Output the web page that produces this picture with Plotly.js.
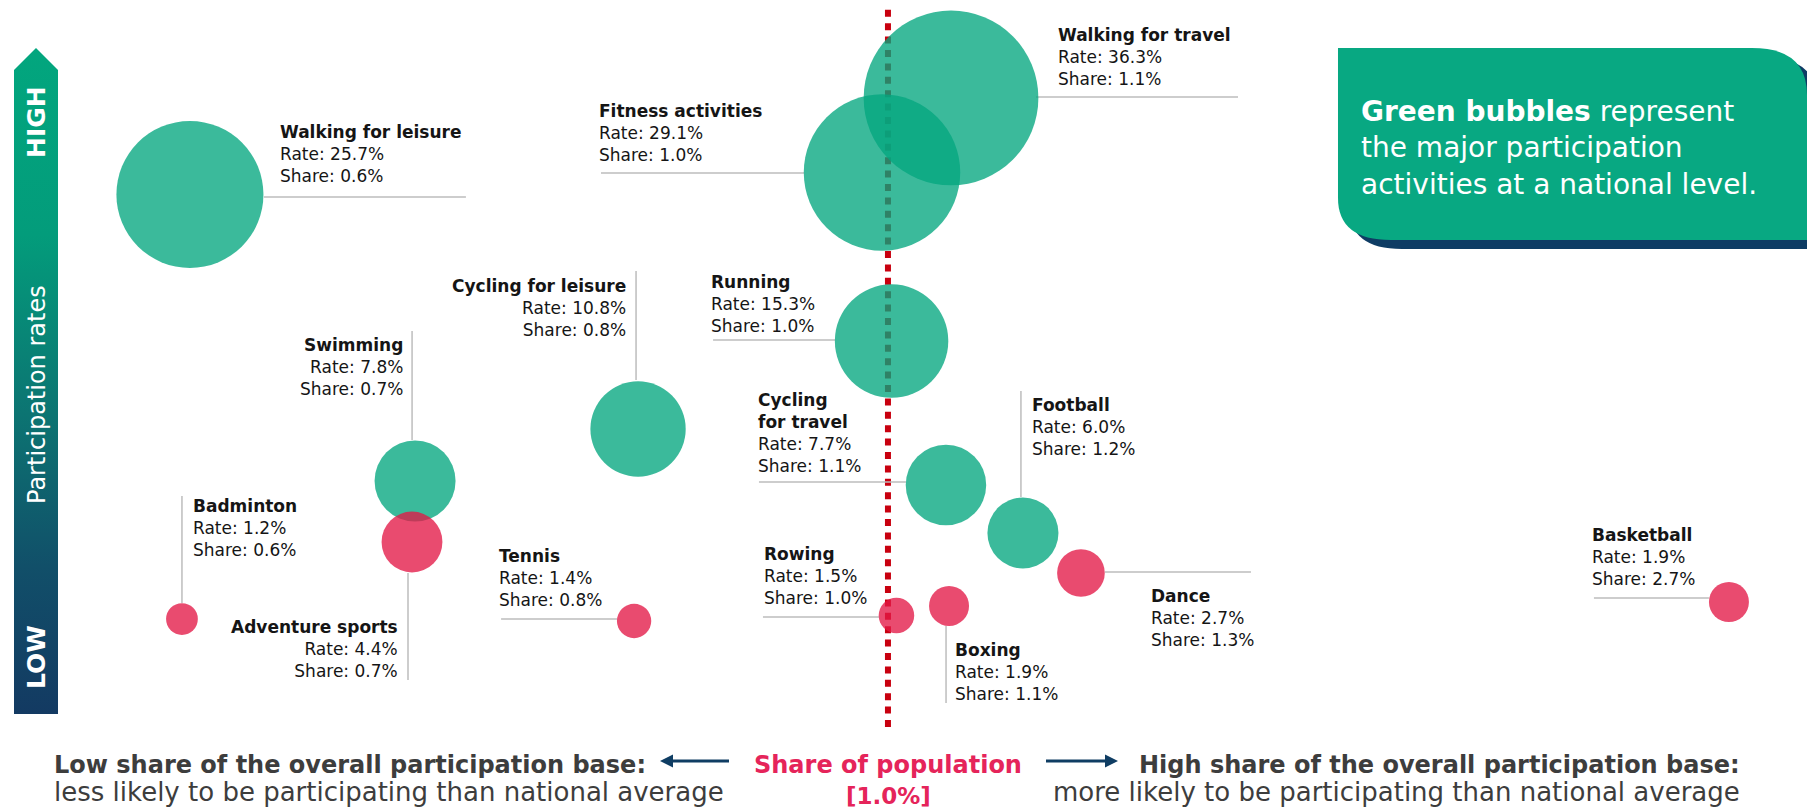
<!DOCTYPE html>
<html>
<head>
<meta charset="utf-8">
<script src="https://cdn.plot.ly/plotly-3.0.1.min.js"></script>
<style>
  html, body { margin: 0; padding: 0; background: #ffffff; }
  #chart { width: 1807px; height: 811px; }
</style>
</head>
<body>
<div id="chart"></div>
<script>
// ---------------- data ----------------
const activities = ['Walking for leisure', 'Walking for travel', 'Fitness activities', 'Running',
  'Cycling for leisure', 'Swimming', 'Adventure sports', 'Badminton', 'Tennis',
  'Cycling for travel', 'Football', 'Dance', 'Rowing', 'Boxing', 'Basketball'];
const rate  = [25.7, 36.3, 29.1, 15.3, 10.8, 7.8, 4.4, 1.2, 1.4, 7.7, 6.0, 2.7, 1.5, 1.9, 1.9];
const share = [0.6, 1.1, 1.0, 1.0, 0.8, 0.7, 0.7, 0.6, 0.8, 1.1, 1.2, 1.3, 1.0, 1.1, 2.7];
const isMajor = [true, true, true, true, true, true, false, false, false, true, true, false, false, false, false];
// where the infographic places each bubble on its unscaled share (x) / rate (y) axes, 0-100
const placeX = [10.51, 52.63, 48.81, 49.34, 35.31, 22.97, 22.80, 10.07, 35.09, 52.35, 56.61, 59.82, 49.61, 52.52, 95.68];
const placeY = [76.02, 87.92, 78.73, 57.95, 47.10, 40.69, 33.17, 23.67, 23.43, 40.20, 34.28, 29.35, 24.11, 25.28, 25.77];
const nationalShare = 1.0;
const nationalShareX = 49.14;

// ---------------- label layout (styles / offsets in px, screen y down) ----------------
const labelLayout = [
  {xa: 'left',  dx: 90,     dy: -74.5, line: ['h', 2.5, 74, 276]},
  {xa: 'left',  dx: 107,    dy: -75,   line: ['h', -1, 85, 287]},
  {xa: 'left',  dx: -283,   dy: -73.5, line: ['h', 0.5, -281, -78]},
  {xa: 'left',  dx: -180.5, dy: -71,   line: ['h', -1, -178.5, -56.5]},
  {xa: 'right', dx: -12,    dy: -155,  line: ['v', -2, -158, -49]},
  {xa: 'right', dx: -12,    dy: -148,  line: ['v', -3, -150, -41]},
  {xa: 'right', dx: -14,    dy: 73,    line: ['v', -4, 31, 138]},
  {xa: 'left',  dx: 11.5,   dy: -125,  line: ['v', 0, -123, -16]},
  {xa: 'left',  dx: -135,   dy: -77,   line: ['h', -2, -133, -17]},
  {xa: 'left',  dx: -188,   dy: -97,   line: ['h', -3, -187, -40], lines: ['Cycling', 'for travel']},
  {xa: 'left',  dx: 9,      dy: -140,  line: ['v', -2, -142, -36]},
  {xa: 'left',  dx: 70,     dy: 11,    line: ['h', -1, 24, 170]},
  {xa: 'left',  dx: -132.5, dy: -73.5, line: ['h', 1.5, -133.5, -17.5]},
  {xa: 'left',  dx: 6,      dy: 32,    line: ['v', -3, 20, 97]},
  {xa: 'left',  dx: -137,   dy: -79,   line: ['h', -4, -135, -20]}
];

const W = 1807, H = 811;
const FONT = 'DejaVu Sans, Verdana, sans-serif';
const GREEN = '#04A77F', RED = '#E31846';
const PX = x => x / W;
const PY = y => 1 - y / H;

// ---------------- bubbles ----------------
function bubbleTrace(flag, color, name) {
  const idx = activities.map((_, i) => i).filter(i => isMajor[i] === flag);
  return {
    type: 'scatter', mode: 'markers', name: name,
    x: idx.map(i => placeX[i]),
    y: idx.map(i => placeY[i]),
    customdata: idx.map(i => [activities[i], rate[i], share[i]]),
    hovertemplate: '<b>%{customdata[0]}</b><br>Rate: %{customdata[1]:.1f}%<br>Share: %{customdata[2]:.1f}%<extra></extra>',
    marker: {
      size: idx.map(i => rate[i]),
      sizemode: 'area',
      sizeref: 1 / (2 * 14.5 * 14.5),
      color: color,
      opacity: 0.78,
      line: {width: 0}
    },
    cliponaxis: false
  };
}
const traces = [bubbleTrace(true, GREEN, 'Major participation activities'),
                bubbleTrace(false, RED, 'Other activities')];

// ---------------- labels + leader lines ----------------
const annotations = [];
const shapes = [];

// dotted national-average reference line
shapes.push({
  type: 'line', xref: 'x', yref: 'paper',
  x0: nationalShareX, x1: nationalShareX, y0: PY(727), y1: PY(8),
  line: {color: '#C8000F', width: 6, dash: '7px,6.4px'}, layer: 'below'
});

activities.forEach((name, i) => {
  const L = labelLayout[i];
  const title = (L.lines || [name]).map(t => '<b>' + t + '</b>').join('<br>');
  annotations.push({
    xref: 'x', yref: 'y', x: placeX[i], y: placeY[i],
    xanchor: L.xa, yanchor: 'top', align: L.xa,
    xshift: L.dx + (L.xa === 'left' ? -2 : 2), yshift: -L.dy,
    showarrow: false,
    text: title + '<br>Rate: ' + rate[i].toFixed(1) + '%<br>Share: ' + share[i].toFixed(1) + '%',
    font: {family: FONT, size: 17, color: '#151515'}
  });
  const ln = L.line;
  const s = {
    type: 'line', xref: 'x', yref: 'y',
    xsizemode: 'pixel', ysizemode: 'pixel',
    xanchor: placeX[i], yanchor: placeY[i],
    line: {color: '#BDBDBD', width: 1.5}, layer: 'below'
  };
  if (ln[0] === 'h') { s.x0 = ln[2]; s.x1 = ln[3]; s.y0 = -ln[1]; s.y1 = -ln[1]; }
  else { s.x0 = ln[1]; s.x1 = ln[1]; s.y0 = -ln[2]; s.y1 = -ln[3]; }
  shapes.push(s);
});

// ---------------- callout box ----------------
function paperPath(cmds) {
  return cmds.map(c => {
    if (typeof c === 'string') return c;
    return PX(c[0]).toFixed(5) + ',' + PY(c[1]).toFixed(5);
  }).join(' ').replace(/([MLQZ]) /g, '$1');
}
function boxPath(ox, oy) {
  return paperPath(['M', [1338 + ox, 48 + oy], 'L', [1752 + ox, 48 + oy],
    'Q', [1807 + ox, 48 + oy], [1807 + ox, 95 + oy],
    'L', [1807 + ox, 240 + oy], 'L', [1391 + ox, 240 + oy],
    'Q', [1338 + ox, 240 + oy], [1338 + ox, 198 + oy], 'Z']);
}
shapes.push({type: 'path', xref: 'paper', yref: 'paper', path: boxPath(11, 9),
  fillcolor: '#0E3C64', line: {width: 0}, layer: 'below'});
shapes.push({type: 'path', xref: 'paper', yref: 'paper', path: boxPath(0, 0),
  fillcolor: '#08A882', line: {width: 0}, layer: 'below'});
annotations.push({
  xref: 'paper', yref: 'paper', x: PX(1359), y: PY(93), xanchor: 'left', yanchor: 'top', align: 'left',
  showarrow: false,
  text: '<b>Green bubbles</b> represent<br>the major participation<br>activities at a national level.',
  font: {family: FONT, size: 28, color: '#ffffff'}
});

// ---------------- bottom axis captions ----------------
const DARK = '#3d3d3d', CRIMSON = '#E5245A', NAVY = '#0F3D63';
function cap(text, x, top, xa, size, color) {
  annotations.push({xref: 'paper', yref: 'paper', x: PX(x), y: PY(top), xanchor: xa, yanchor: 'top',
    align: xa === 'center' ? 'center' : xa, showarrow: false, text: text,
    font: {family: FONT, size: size, color: color}});
}
cap('<b>Low share of the overall participation base:</b>', 52, 748.7, 'left', 24, DARK);
cap('less likely to be participating than national average', 52, 774.9, 'left', 26, DARK);
cap('<b>High share of the overall participation base:</b>', 1742, 748.7, 'right', 24, DARK);
cap('more likely to be participating than national average', 1742, 774.9, 'right', 26, DARK);
cap('<b>Share of population</b>', 888, 748.7, 'center', 24, CRIMSON);
cap('<b>[' + nationalShare.toFixed(1) + '%]</b>', 888, 780.7, 'center', 23, CRIMSON);

// arrows
shapes.push({type: 'line', xref: 'paper', yref: 'paper', x0: PX(670), x1: PX(729), y0: PY(761), y1: PY(761),
  line: {color: NAVY, width: 3}});
shapes.push({type: 'path', xref: 'paper', yref: 'paper', fillcolor: NAVY, line: {width: 0},
  path: paperPath(['M', [660, 761], 'L', [673, 754.5], 'L', [673, 767.5], 'Z'])});
shapes.push({type: 'line', xref: 'paper', yref: 'paper', x0: PX(1046), x1: PX(1108), y0: PY(761), y1: PY(761),
  line: {color: NAVY, width: 3}});
shapes.push({type: 'path', xref: 'paper', yref: 'paper', fillcolor: NAVY, line: {width: 0},
  path: paperPath(['M', [1118, 761], 'L', [1105, 754.5], 'L', [1105, 767.5], 'Z'])});

// ---------------- vertical rate arrow (gradient) ----------------
const barSvg = "<svg xmlns='http://www.w3.org/2000/svg' width='44' height='666' viewBox='0 0 44 666' preserveAspectRatio='none'>" +
  "<defs><linearGradient id='g' x1='0' y1='0' x2='0' y2='1'>" +
  "<stop offset='0' stop-color='#02A67E'/><stop offset='0.28' stop-color='#039C7B'/>" +
  "<stop offset='0.55' stop-color='#0C7472'/><stop offset='0.78' stop-color='#114F69'/>" +
  "<stop offset='1' stop-color='#133A62'/></linearGradient></defs>" +
  "<path d='M0 22 L22 0 L44 22 L44 666 L0 666 Z' fill='url(#g)'/></svg>";
const images = [{
  source: 'data:image/svg+xml;charset=utf-8,' + encodeURIComponent(barSvg),
  xref: 'paper', yref: 'paper', x: PX(14), y: PY(48), sizex: 44 / W, sizey: 666 / H,
  xanchor: 'left', yanchor: 'top', sizing: 'stretch', layer: 'below'
}];
annotations.push({xref: 'paper', yref: 'paper', x: PX(36), y: PY(122), xanchor: 'center', yanchor: 'middle',
  textangle: -90, showarrow: false, text: '<b>HIGH</b>', font: {family: FONT, size: 25, color: '#ffffff'}});
annotations.push({xref: 'paper', yref: 'paper', x: PX(37), y: PY(395), xanchor: 'center', yanchor: 'middle',
  textangle: -90, showarrow: false, text: 'Participation rates', font: {family: FONT, size: 24, color: '#ffffff'}});
annotations.push({xref: 'paper', yref: 'paper', x: PX(36), y: PY(657), xanchor: 'center', yanchor: 'middle',
  textangle: -90, showarrow: false, text: '<b>LOW</b>', font: {family: FONT, size: 25, color: '#ffffff'}});

// ---------------- layout ----------------
const layout = {
  width: W, height: H,
  margin: {l: 0, r: 0, t: 0, b: 0, pad: 0},
  paper_bgcolor: '#ffffff', plot_bgcolor: '#ffffff',
  showlegend: false,
  xaxis: {range: [0, 100], visible: false, fixedrange: true},
  yaxis: {range: [0, 100], visible: false, fixedrange: true},
  shapes: shapes, annotations: annotations, images: images,
  font: {family: FONT},
  hovermode: 'closest'
};

Plotly.newPlot('chart', traces, layout, {displayModeBar: false, staticPlot: false});
</script>
</body>
</html>
